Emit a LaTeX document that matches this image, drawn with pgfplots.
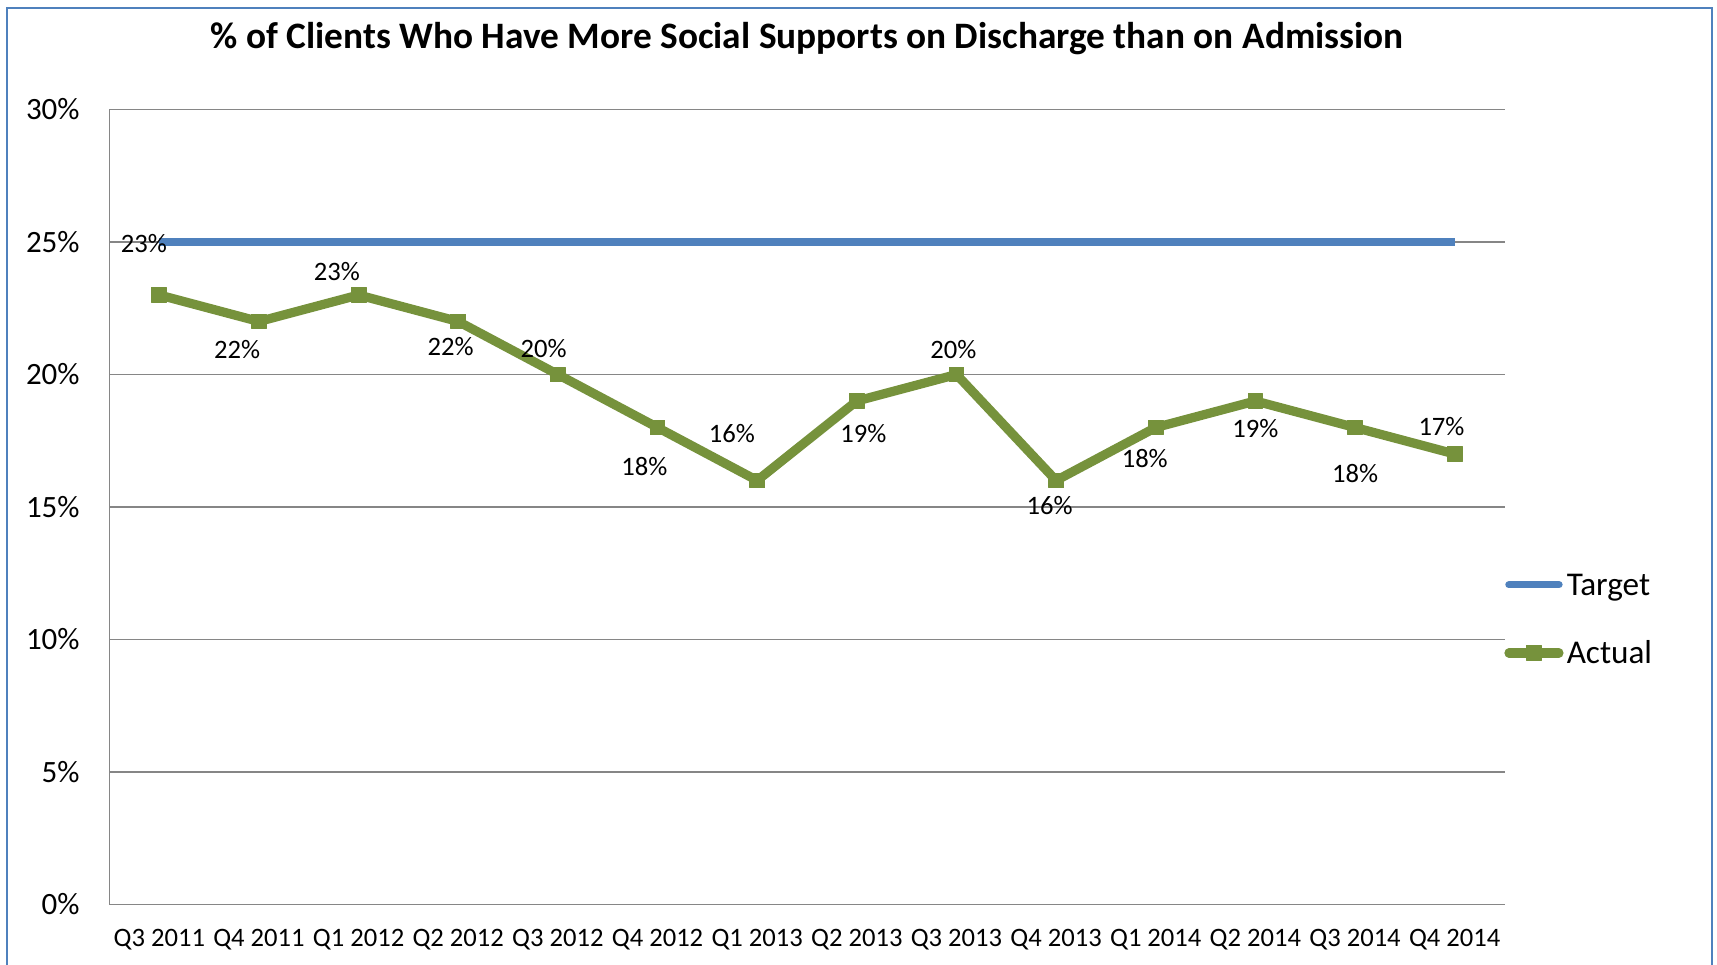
\documentclass[border=0pt]{standalone}
\usepackage{pgfplots}
\usepackage{pgfplotstable}
\pgfplotsset{compat=1.18}
\usepackage{fontspec}
\setmainfont{Carlito}
\definecolor{tblue}{RGB}{79,129,189}
\definecolor{agreen}{RGB}{118,146,60}
\definecolor{gridgray}{RGB}{134,134,134}

\pgfplotsset{
  tleg/.style={legend image code/.code={\draw[##1, line cap=round] (0bp,0bp) -- (25bp,0bp);}},
  aleg/.style={legend image code/.code={\draw[mark repeat=2, mark phase=2, ##1] plot coordinates {(0bp,0bp) (12.5bp,0bp) (25bp,0bp)};}},
}

\pgfplotstableread{
x y dx dy
0 23 -7.7 25.7
1 22 -10.9 -14.2
2 23 -10.9 11.5
3 22 -3.8 -12.6
4 20 -7.1 13.1
5 18 -6.6 -19.7
6 16 -12.6 23.5
7 19 3.3 -16.4
8 20 -1.6 12.6
9 16 -3.3 -12.6
10 18 -5.5 -15.3
11 19 0 -13.7
12 18 0 -23.0
13 17 -6.6 13.7
}\actualdata

\pgfplotstableread{
x y
0 25
1 25
2 25
3 25
4 25
5 25
6 25
7 25
8 25
9 25
10 25
11 25
12 25
13 25
}\targetdata

\begin{document}
\begin{tikzpicture}
\useasboundingbox (-54.75bp,-30.25bp) rectangle (803.75bp,452.25bp);
\draw[tblue, line width=1.2bp] (-51.25bp,-45bp) -- (-51.25bp,448.25bp) -- (801.25bp,448.25bp) -- (801.25bp,-45bp);
\begin{axis}[
  at={(0,0)}, anchor=south west,
  scale only axis,
  width=697.5bp, height=397.5bp,
  xmin=-0.5, xmax=13.5,
  ymin=0, ymax=30,
  clip=false,
  separate axis lines,
  axis x line*=bottom,
  axis y line*=left,
  axis line style={gridgray, line width=0.8bp, -},
  ymajorgrids,
  grid style={gridgray, line width=0.8bp},
  major tick length=0pt,
  tick style={draw=none},
  xtick={0,1,...,13},
  xticklabels={Q3 2011,Q4 2011,Q1 2012,Q2 2012,Q3 2012,Q4 2012,Q1 2013,Q2 2013,Q3 2013,Q4 2013,Q1 2014,Q2 2014,Q3 2014,Q4 2014},
  ytick={0,5,10,15,20,25,30},
  yticklabels={0\%,5\%,10\%,15\%,20\%,25\%,30\%},
  xticklabel style={font=\fontsize{13.3bp}{15bp}\selectfont, anchor=base, inner sep=0pt, yshift=-21.1bp},
  yticklabel style={font=\fontsize{15.5bp}{18bp}\selectfont, anchor=east, inner sep=0pt, xshift=-14.75bp},
  title={\% of Clients Who Have More Social Supports on Discharge than on Admission},
  title style={font=\fontsize{18.66bp}{21bp}\selectfont\bfseries, at={(0.5,1)}, anchor=base, yshift=24.3bp, inner sep=0pt},
  legend cell align=left,
  legend style={at={(0.9999,0.4155)}, anchor=north west, draw=none, fill=none,
    inner sep=0pt, outer sep=0pt, row sep=23.5bp, column sep=1.6bp,
    nodes={font=\fontsize{16.6bp}{19bp}\selectfont, text height=10.6bp, text depth=0pt, inner sep=0pt}},
]
\addplot[tblue, line width=3.7bp, line cap=butt, tleg]
  table[x=x, y=y] {\targetdata};
\addlegendentry{Target}
\addplot[agreen, line width=4.6bp, line cap=round, line join=round,
  mark=square*, mark size=3.7bp, mark options={solid, fill=agreen, draw=agreen, line width=0.5bp},
  point meta=y,
  visualization depends on={\thisrow{dx} \as \dx},
  visualization depends on={\thisrow{dy} \as \dy},
  nodes near coords={\pgfmathprintnumber[assume math mode=true]{\pgfplotspointmeta}\%},
  nodes near coords style={font=\fontsize{13.3bp}{15bp}\selectfont, text=black, anchor=center, inner sep=0pt, xshift=\dx*1bp, yshift=\dy*1bp},
  aleg]
  table[x=x, y=y] {\actualdata};
\addlegendentry{Actual}
\end{axis}
\end{tikzpicture}
\end{document}
